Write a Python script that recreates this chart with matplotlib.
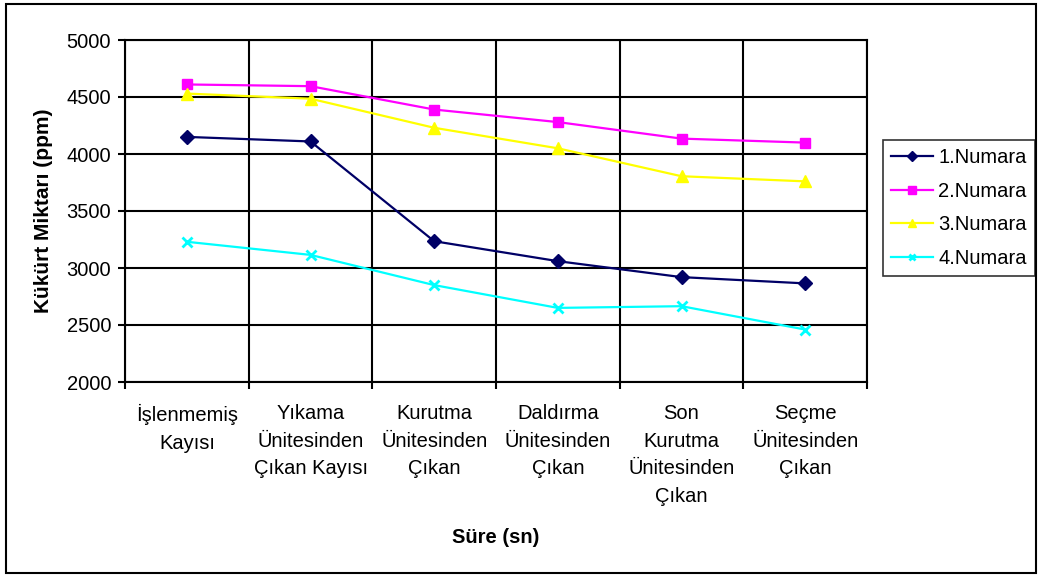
import matplotlib.pyplot as plt
from matplotlib.patches import Rectangle
import numpy as np

plt.rcParams['font.family'] = ['Liberation Sans', 'DejaVu Sans']

# categories (x axis)
kategoriler = ["İşlenmemiş\nKayısı",
               "Yıkama\nÜnitesinden\nÇıkan Kayısı",
               "Kurutma\nÜnitesinden\nÇıkan",
               "Daldırma\nÜnitesinden\nÇıkan",
               "Son\nKurutma\nÜnitesinden\nÇıkan",
               "Seçme\nÜnitesinden\nÇıkan"]

# sulphur values (ppm) per sample
numara1 = [4150, 4110, 3235, 3060, 2920, 2865]
numara2 = [4610, 4595, 4390, 4280, 4135, 4100]
numara3 = [4530, 4485, 4230, 4050, 3805, 3760]
numara4 = [3230, 3115, 2850, 2650, 2665, 2460]

etiketler = ["1.Numara", "2.Numara", "3.Numara", "4.Numara"]

x_lab = "Süre (sn)"
y_lab = "Kükürt Miktarı (ppm)"

ymin, ymax = 2000, 5000
FS = 14.5

fig = plt.figure(figsize=(10.39, 5.77), dpi=100)
ax = fig.add_axes([125/1039, 1 - 382/577, (867 - 125)/1039, (382 - 40)/577])

x = np.arange(len(kategoriler))
ax.plot(x, numara1, color='#000066', linewidth=1.6, marker='D', markersize=7, label=etiketler[0])
ax.plot(x, numara2, color='#FF00FF', linewidth=1.6, marker='s', markersize=7.5, label=etiketler[1])
ax.plot(x, numara3, color='#FFFF00', linewidth=1.6, marker='^', markersize=8, label=etiketler[2])
ax.plot(x, numara4, color='#00FFFF', linewidth=1.6, marker='x', markersize=7, markeredgewidth=2, label=etiketler[3])

ax.set_xlim(-0.5, len(kategoriler) - 0.5)
ax.set_ylim(ymin, ymax)
ax.set_yticks(np.arange(ymin, ymax + 1, 500))
ax.set_xticks(x)
ax.set_xticklabels(kategoriler, fontsize=FS, linespacing=1.57, va='top')
ax.set_xticks(np.arange(-0.5, len(kategoriler)), minor=True)
ax.tick_params(axis='x', which='major', length=0, pad=16)
ax.tick_params(axis='x', which='minor', length=5, width=1.5, direction='out')
ax.tick_params(axis='y', labelsize=FS, length=5, width=1.5, pad=5)

ax.grid(axis='y', which='major', color='black', linewidth=1.5)
ax.grid(axis='x', which='minor', color='black', linewidth=1.5)
ax.set_axisbelow(True)
for s in ax.spines.values():
    s.set_color('black')
    s.set_linewidth(1.5)

ax.set_xlabel(x_lab, fontsize=FS, fontweight='bold', labelpad=16)
ax.set_ylabel(y_lab, fontsize=15, fontweight='bold', labelpad=10)

leg = ax.legend(loc='center left', bbox_to_anchor=(883/1039, 1 - 208/577),
                bbox_transform=fig.transFigure, fontsize=FS, frameon=True, fancybox=False,
                edgecolor='black', handlelength=2.1, handletextpad=0.25,
                borderpad=0.4, labelspacing=0.72, markerscale=0.7, borderaxespad=0)
leg.get_frame().set_linewidth(1.2)

fig.patches.append(Rectangle((6/1039, 4/577), 1030/1039, 569/577, transform=fig.transFigure,
                             fill=False, edgecolor='black', linewidth=1.5))

plt.savefig('out.png', dpi=100)
